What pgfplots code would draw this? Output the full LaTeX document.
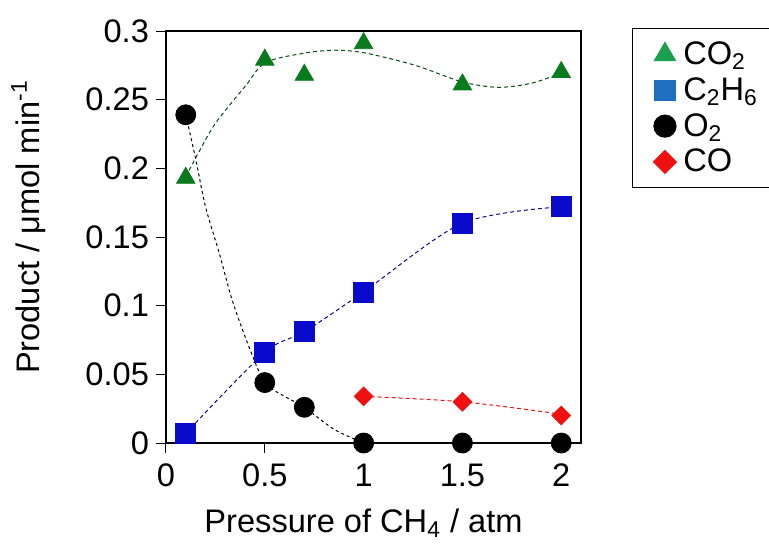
\documentclass[border=0pt]{standalone}
\usepackage{pgfplots}
\pgfplotsset{compat=1.18}
\usepackage{fontspec}
\setmainfont{Liberation Sans}
\definecolor{cgreen}{HTML}{0A7A1E}
\definecolor{cblue}{HTML}{0A0ACC}
\definecolor{lgreen}{HTML}{1BA050}
\definecolor{lblue}{HTML}{1F6FC0}
\definecolor{cred}{HTML}{F01010}
\newcommand{\fs}{\fontsize{16.3}{19}\selectfont}
\begin{document}
\begin{tikzpicture}
\useasboundingbox (-83pt,-50pt) rectangle (301.5pt,221.5pt);
\begin{axis}[
  scale only axis,
  width=207.5pt, height=206pt,
  at={(0,0)}, anchor=south west,
  xmin=0, xmax=2.1, ymin=0, ymax=0.3,
  xtick={0,0.5,1,1.5,2},
  xticklabels={0,0.5,1,1.5,2},
  ytick={0,0.05,0.1,0.15,0.2,0.25,0.3},
  yticklabels={0,0.05,0.1,0.15,0.2,0.25,0.3},
  tick pos=left, tick align=outside,
  major tick length=5pt,
  tick style={black, line width=0.5pt},
  axis line style={black, line width=0.6pt},
  tick label style={font=\fs},
  xticklabel style={yshift=-2pt},
  label style={font=\fs},
  xlabel={Pressure of CH\textsubscript{4} / atm},
  ylabel={Product / μmol min\textsuperscript{-1}},
  xlabel style={yshift=-4pt, xshift=-5pt},
  ylabel style={yshift=13pt, xshift=5pt},
  legend style={at={(1.123,1.007)}, anchor=north west, draw=black, line width=0.6pt,
    font=\fs, row sep=1pt, inner xsep=10.5pt, inner ysep=4.5pt},
  legend cell align=left,
  clip=false,
]
% curves
\addplot[forget plot, smooth, cgreen!60!black, line width=0.5pt, dash pattern=on 2pt off 1.5pt] coordinates {
(0.1,0.194) (0.167,0.212) (0.251,0.233) (0.402,0.260) (0.503,0.277) (0.705,0.284)
(0.857,0.286) (1.008,0.284) (1.261,0.275) (1.497,0.263) (1.682,0.259) (1.85,0.262) (1.993,0.269)};
\addplot[forget plot, smooth, cblue!70!black, line width=0.5pt, dash pattern=on 2pt off 1.5pt] coordinates {
(0.1,0.007) (0.5,0.066) (0.7,0.081) (1,0.110) (1.5,0.160) (2,0.172)};
\addplot[forget plot, smooth, black, line width=0.5pt, dash pattern=on 1.5pt off 1.5pt] coordinates {
(0.1,0.239) (0.15,0.207) (0.2,0.172) (0.27,0.138) (0.335,0.104) (0.42,0.070) (0.5,0.044)
(0.6,0.034) (0.7,0.026) (0.85,0.010) (1.0,0.0)};
\addplot[forget plot, smooth, cred, line width=0.5pt, dash pattern=on 2pt off 1.5pt] coordinates {
(1,0.034) (1.5,0.030) (2,0.021)};
% markers
\addplot[forget plot, only marks, mark=triangle*, mark size=5.3pt, cgreen, mark options={draw=cgreen, fill=cgreen}] coordinates {
(0.1,0.193) (0.5,0.279) (0.7,0.268) (1.0,0.291) (1.5,0.261) (2.0,0.270)};
\addplot[forget plot, only marks, mark=square*, mark size=5pt, cblue, mark options={draw=cblue, fill=cblue}] coordinates {
(0.1,0.007) (0.5,0.066) (0.7,0.081) (1.0,0.110) (1.5,0.160) (2.0,0.172)};
\addplot[forget plot, only marks, mark=*, mark size=5pt, black] coordinates {
(0.1,0.239) (0.5,0.044) (0.7,0.026) (1.0,0) (1.5,0) (2.0,0)};
\addplot[forget plot, only marks, mark=square*, mark size=3.3pt, cred, mark options={draw=cred, fill=cred, rotate=45}] coordinates {
(1.0,0.034) (1.5,0.030) (2.0,0.020)};
% legend
\addlegendimage{only marks, mark=triangle*, mark size=6pt, lgreen, mark options={draw=lgreen, fill=lgreen}}
\addlegendentry{\hspace{1.5pt}CO\textsubscript{2}}
\addlegendimage{only marks, mark=square*, mark size=5pt, lblue, mark options={draw=lblue, fill=lblue}}
\addlegendentry{\hspace{1.5pt}C\textsubscript{2}H\textsubscript{6}}
\addlegendimage{only marks, mark=*, mark size=5.5pt, black}
\addlegendentry{\hspace{1.5pt}O\textsubscript{2}}
\addlegendimage{only marks, mark=square*, mark size=4pt, cred, mark options={draw=cred, fill=cred, rotate=45}}
\addlegendentry{\hspace{1.5pt}CO}
\end{axis}
\end{tikzpicture}
\end{document}
